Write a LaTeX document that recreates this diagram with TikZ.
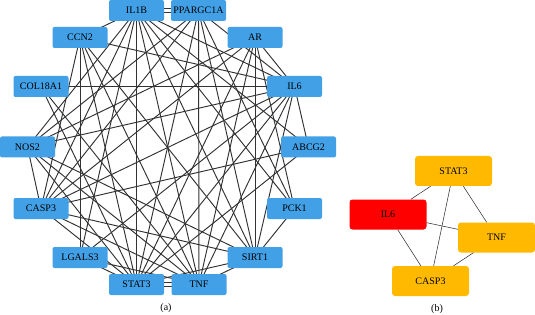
\documentclass[tikz,border=0pt]{standalone}
\usepackage{fontspec}
\setmainfont{Liberation Serif}
\definecolor{nodeblue}{RGB}{66,160,230}
\definecolor{nodeorange}{RGB}{255,186,0}
\definecolor{nodered}{RGB}{255,0,0}
\definecolor{edgegray}{RGB}{50,50,50}
\begin{document}
\begin{tikzpicture}[x=1pt,y=-1pt,
  gene/.style={draw=none,fill=nodeblue,rounded corners=2pt,minimum width=55pt,minimum height=21pt,inner sep=0pt,font=\fontsize{10}{12}\selectfont},
  hub/.style={draw=none,rounded corners=3pt,minimum width=77pt,minimum height=30pt,inner sep=0pt,font=\fontsize{10}{12}\selectfont},
  link/.style={draw=edgegray,line width=0.95pt},
  thinlink/.style={draw=edgegray,line width=0.55pt},
  caption/.style={font=\fontsize{10}{12}\selectfont}]
\useasboundingbox (0,0) rectangle (535,315);
% ---------- panel (a) node centres ----------
\coordinate (cIL1B) at (136.5,10.5);
\coordinate (cPPARGC1A) at (198.5,10.5);
\coordinate (cCCN2) at (80,37.5);
\coordinate (cAR) at (255,37.5);
\coordinate (cCOL18A1) at (41,86.5);
\coordinate (cIL6) at (294.5,86.5);
\coordinate (cNOS2) at (27.5,147);
\coordinate (cABCG2) at (308.5,147);
\coordinate (cCASP3) at (41,208.5);
\coordinate (cPCK1) at (294.5,208.5);
\coordinate (cLGALS3) at (80,257.5);
\coordinate (cSIRT1) at (255,257.5);
\coordinate (cSTAT3) at (136.5,284.5);
\coordinate (cTNF) at (199,284.5);
% ---------- panel (a) edges ----------
\foreach \a/\b in {
  IL1B/CCN2, IL1B/IL6, IL1B/NOS2, IL1B/CASP3, IL1B/LGALS3, IL1B/STAT3, IL1B/TNF, IL1B/SIRT1, IL1B/PCK1, IL1B/ABCG2,
  PPARGC1A/IL6, PPARGC1A/CASP3, PPARGC1A/STAT3, PPARGC1A/TNF, PPARGC1A/SIRT1, PPARGC1A/PCK1, PPARGC1A/NOS2,
  CCN2/IL6, CCN2/CASP3, CCN2/STAT3, CCN2/TNF, CCN2/SIRT1, CCN2/LGALS3,
  AR/IL6, AR/CASP3, AR/STAT3, AR/TNF, AR/SIRT1, AR/PCK1, AR/NOS2,
  COL18A1/IL6, COL18A1/TNF, COL18A1/STAT3,
  IL6/NOS2, IL6/ABCG2, IL6/CASP3, IL6/LGALS3, IL6/STAT3, IL6/TNF, IL6/SIRT1,
  NOS2/CASP3, NOS2/STAT3, NOS2/TNF, NOS2/SIRT1,
  ABCG2/CASP3, ABCG2/STAT3,
  CASP3/STAT3, CASP3/TNF, CASP3/SIRT1,
  LGALS3/STAT3, LGALS3/TNF,
  SIRT1/STAT3, SIRT1/TNF, PCK1/SIRT1}
  {\draw[link] (c\a) -- (c\b);}
\draw[link] ([yshift=-2pt]cIL1B) -- ([yshift=-2pt]cPPARGC1A);
\draw[link] ([yshift=2pt]cIL1B) -- ([yshift=2pt]cPPARGC1A);
\draw[link] ([yshift=-2pt]cSTAT3) -- ([yshift=-2pt]cTNF);
\draw[link] ([yshift=2pt]cSTAT3) -- ([yshift=2pt]cTNF);
% ---------- panel (a) boxes ----------
\foreach \n in {IL1B,PPARGC1A,CCN2,AR,COL18A1,IL6,NOS2,ABCG2,CASP3,PCK1,LGALS3,SIRT1,STAT3,TNF}
  {\node[gene] (\n) at (c\n) {\n};}
\node[caption] (capa) at (166,308) {(a)};
% ---------- panel (b) ----------
\node[hub,fill=nodeorange] (bSTAT3) at (453.5,171) {STAT3};
\node[hub,fill=nodered] (bIL6) at (388,214.5) {IL6};
\node[hub,fill=nodeorange] (bTNF) at (496.5,237.5) {TNF};
\node[hub,fill=nodeorange] (bCASP3) at (430.5,281) {CASP3};
\draw[thinlink] (bSTAT3) -- (bIL6);
\draw[thinlink] (bSTAT3) -- (bTNF);
\draw[thinlink] (bSTAT3) -- (bCASP3);
\draw[thinlink] (bIL6) -- (bTNF);
\draw[thinlink] (bIL6) -- (bCASP3);
\draw[thinlink] (bTNF) -- (bCASP3);
\node[caption] (capb) at (437,309) {(b)};
\end{tikzpicture}
\end{document}
